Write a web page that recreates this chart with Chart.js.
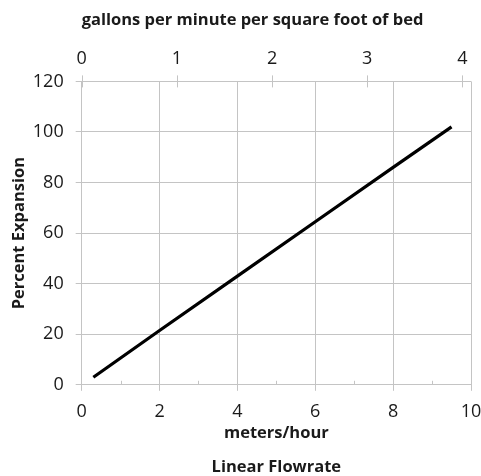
<!DOCTYPE html>
<html>
<head>
<meta charset="utf-8">
<script src="https://cdn.jsdelivr.net/npm/chart.js@4.4.1/dist/chart.umd.min.js"></script>
<style>
  html, body { margin: 0; padding: 0; background: #fff; }
  #wrap { width: 481px; height: 476px; }
</style>
</head>
<body>
<div id="wrap"><canvas id="chart"></canvas></div>
<script>
// Data
const flowMH = [0.3, 2, 4, 6, 8, 9.5];         // meters/hour
const expansion = [3, 21.5, 43, 64.5, 86, 102]; // percent
const gpmTicks = [0, 1, 2, 3, 4];               // top axis labels
const minorMH = [1, 3, 5, 7, 9];                // small inside ticks on bottom axis
const MH_PER_GPM = 2.445;                       // 1 gpm/ft2 = 2.445 m/h

const gridColor = '#c4c4c4';
const textColor = '#1a1a1a';
Chart.defaults.font.family = "'Open Sans', sans-serif";
Chart.defaults.color = textColor;

// inward tick marks (top axis and bottom minor ticks)
const innerTicks = {
    id: 'innerTicks',
    afterDraw(chart) {
        const { ctx, chartArea, scales } = chart;
        ctx.save();
        ctx.strokeStyle = gridColor;
        ctx.lineWidth = 1;
        ctx.beginPath();
        gpmTicks.forEach(v => {
            const x = Math.round(scales.x2.getPixelForValue(v)) + 0.5;
            ctx.moveTo(x, chartArea.top - 6);
            ctx.lineTo(x, chartArea.top + 6);
        });
        minorMH.forEach(v => {
            const x = Math.round(scales.x.getPixelForValue(v)) + 0.5;
            ctx.moveTo(x, chartArea.bottom - 4);
            ctx.lineTo(x, chartArea.bottom);
        });
        ctx.stroke();
        ctx.restore();
    }
};

const tickFont = { size: 18 };
const titleFont = { size: 16.5, weight: 'bold' };

new Chart(document.getElementById('chart'), {
    type: 'scatter',
    data: {
        datasets: [{
            data: flowMH.map((x, i) => ({ x: x, y: expansion[i] })),
            showLine: true,
            borderColor: '#000',
            borderWidth: 3.2,
            pointRadius: 0,
            xAxisID: 'x',
            yAxisID: 'y'
        }]
    },
    options: {
        responsive: true,
        maintainAspectRatio: false,
        animation: false,
        layout: { padding: { left: 9, right: 10, top: 10, bottom: -1 } },
        plugins: {
            legend: { display: false },
            tooltip: { enabled: false },
            title: {
                display: true,
                position: 'bottom',
                fullSize: false,
                text: 'Linear Flowrate',
                color: textColor,
                font: titleFont,
                padding: { top: 14, bottom: 0 }
            }
        },
        scales: {
            x: {
                type: 'linear',
                position: 'bottom',
                min: 0, max: 10,
                ticks: { stepSize: 2, font: tickFont, color: textColor, padding: 10 },
                grid: { color: gridColor, tickLength: 6 },
                border: { color: gridColor },
                title: { display: true, text: 'meters/hour', font: titleFont, color: textColor, padding: { top: -9, bottom: 0 } },
                afterFit: s => { s.paddingRight = 0; }
            },
            x2: {
                type: 'linear',
                position: 'top',
                min: 0, max: 10 / MH_PER_GPM,
                afterBuildTicks: s => { s.ticks = gpmTicks.map(v => ({ value: v })); },
                ticks: { font: tickFont, color: textColor, padding: 12 },
                grid: { display: false, drawTicks: false },
                border: { display: false },
                title: { display: true, align: 'start', text: 'gallons per minute per square foot of bed', font: titleFont, color: textColor, padding: { top: 0, bottom: 6 } },
                afterFit: s => { s.paddingRight = 0; s.paddingLeft = 0; }
            },
            y: {
                min: 0, max: 120,
                ticks: { stepSize: 20, font: tickFont, color: textColor, padding: 12 },
                grid: { color: gridColor, tickLength: 6 },
                border: { color: gridColor },
                title: { display: true, text: 'Percent Expansion', font: titleFont, color: textColor, padding: { top: 0, bottom: -8 } }
            }
        }
    },
    plugins: [innerTicks]
});
</script>
</body>
</html>
